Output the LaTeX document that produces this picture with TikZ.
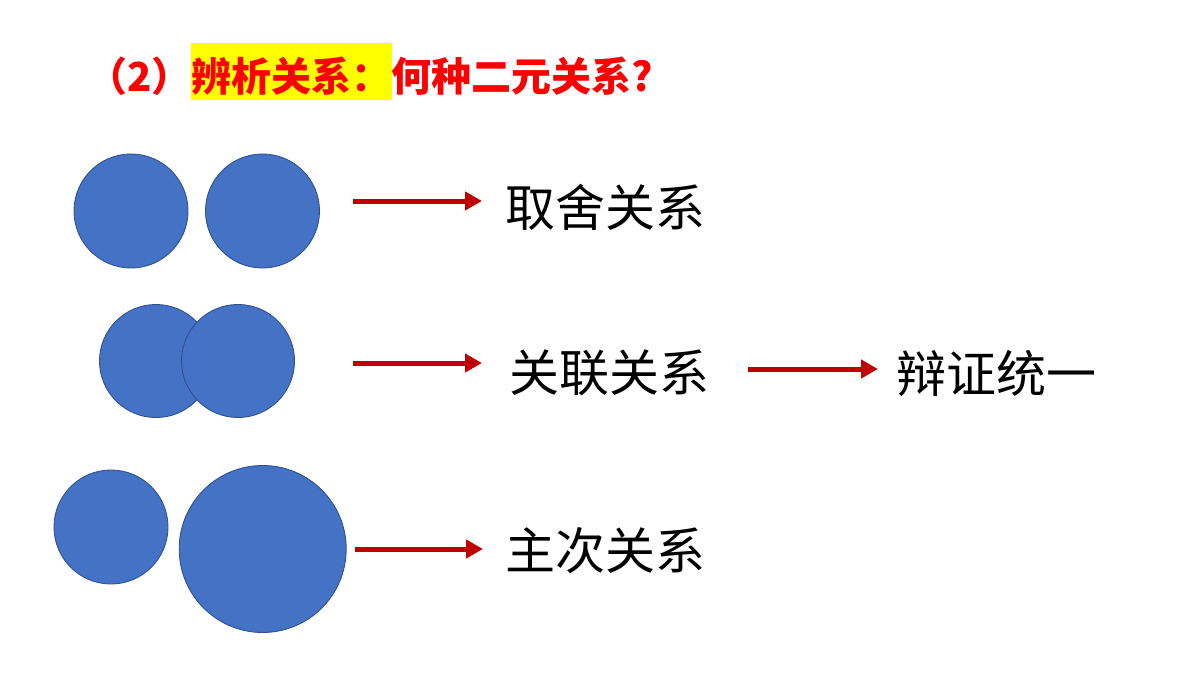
\documentclass[tikz,border=0pt]{standalone}
\usepackage{fontspec}
\newfontfamily\cjk{Noto Sans CJK SC}
\usetikzlibrary{arrows.meta}
\definecolor{ballfill}{HTML}{4472C4}
\definecolor{balledge}{HTML}{2F528F}
\definecolor{arrred}{HTML}{C00000}
\definecolor{titlered}{HTML}{FF0000}
\definecolor{hly}{HTML}{FFFF00}
\tikzset{
  ball/.style={circle, fill=ballfill, draw=balledge, line width=0.9pt, inner sep=0pt},
  redarrow/.style={draw=arrred, line width=5pt, -{Triangle[length=17pt,width=18pt]}},
  bodytext/.style={font=\cjk\fontsize{50}{56}\selectfont, inner sep=0pt, anchor=west},
  titletext/.style={font=\cjk\bfseries\fontsize{40}{46}\selectfont, text=titlered, inner sep=0pt},
}
\begin{document}
\begin{tikzpicture}[x=1pt,y=-1pt]
\useasboundingbox (0,0) rectangle (1200,675);
% title
\node[fill=hly, minimum width=201pt, minimum height=57pt, inner sep=0pt] (hl) at (291.5,71.5) {};
\node[titletext, anchor=east] (tnum) at (192,76) {（2）};
\node[titletext, anchor=west] (tA) at (191,76) {辨析关系：};
\node[titletext, anchor=west] (tB) at (391,76) {何种二元关系?};
% row 1
\node[ball, minimum size=114pt] (c1a) at (131,211) {};
\node[ball, minimum size=114pt] (c1b) at (262.5,211) {};
% row 2
\node[ball, minimum size=113pt] (c2a) at (156,361) {};
\node[ball, minimum size=113pt] (c2b) at (238,361) {};
% row 3
\node[ball, minimum size=114pt] (c3a) at (111,527) {};
\node[ball, minimum size=167pt] (c3b) at (262.7,549) {};
% texts
\node[bodytext] (t1) at (505,207) {取舍关系};
\node[bodytext] (t2) at (509,373) {关联关系};
\node[bodytext] (t3) at (896,373) {辩证统一};
\node[bodytext] (t4) at (505,551) {主次关系};
% arrows
\coordinate (a1s) at (353,201); \coordinate (a1e) at (482,201);
\coordinate (a2s) at (353,363); \coordinate (a2e) at (482,363);
\coordinate (a3s) at (748,369); \coordinate (a3e) at (878,369);
\coordinate (a4s) at (355,549); \coordinate (a4e) at (483,549);
\draw[redarrow] (a1s) -- (a1e);
\draw[redarrow] (a2s) -- (a2e);
\draw[redarrow] (a3s) -- (a3e);
\draw[redarrow] (a4s) -- (a4e);
\end{tikzpicture}
\end{document}
